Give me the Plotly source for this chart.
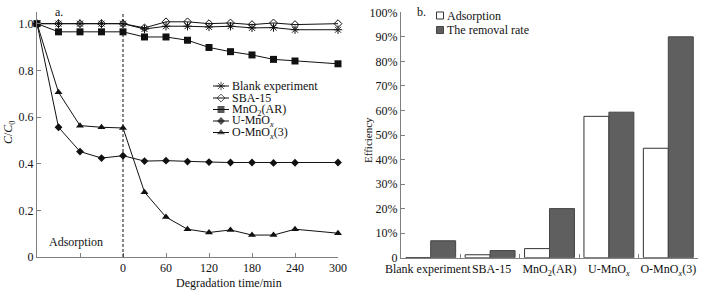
import plotly.graph_objects as go

# ---------------- data ----------------
time_min = [-120, -90, -60, -30, 0, 30, 60, 90, 120, 150, 180, 210, 240, 300]
blank_exp = [1.0, 1.0, 1.0, 1.0, 1.0, 0.977, 0.989, 0.989, 0.986, 0.989, 0.982, 0.983, 0.974, 0.974]
sba15 = [1.0, 1.0, 1.0, 1.0, 1.0, 0.982, 1.008, 1.008, 1.0, 1.003, 0.996, 1.003, 0.996, 1.0]
mno2_ar = [1.0, 0.965, 0.965, 0.965, 0.965, 0.943, 0.943, 0.929, 0.898, 0.880, 0.866, 0.847, 0.840, 0.828]
u_mnox = [1.0, 0.556, 0.452, 0.424, 0.434, 0.411, 0.413, 0.409, 0.407, 0.405, 0.405, 0.403, 0.404, 0.405]
o_mnox3 = [1.0, 0.706, 0.563, 0.556, 0.553, 0.278, 0.171, 0.119, 0.105, 0.116, 0.094, 0.094, 0.119, 0.102]
adsorption_end = 0

series_names = ["Blank experiment", "SBA-15", "MnO<sub>2</sub>(AR)",
                "U-MnO<sub><i>x</i></sub>", "O-MnO<sub><i>x</i></sub>(3)"]

left_x_ticks = [-120, -60, 0, 60, 120, 180, 240, 300]
left_x_labels = ["", "", "0", "60", "120", "180", "240", "300"]
left_y_ticks = [0, 0.2, 0.4, 0.6, 0.8, 1.0, 1.05]
left_y_labels = ["0", "0.2", "0.4", "0.6", "0.8", "1.0", ""]

categories = ["Blank experiment", "SBA-15", "MnO<sub>2</sub>(AR)",
              "U-MnO<sub><i>x</i></sub>", "O-MnO<sub><i>x</i></sub>(3)"]
category_labels = ["Blank experiment\u00a0\u00a0", "\u00a0SBA-15", "MnO<sub>2</sub>(AR)",
                   "U-MnO<sub><i>x</i></sub>", "O-MnO<sub><i>x</i></sub>(3)"]
adsorption_pct = [0, 1.2, 3.7, 57.6, 44.6]
removal_pct = [6.9, 2.9, 20.0, 59.3, 90.0]
right_y_ticks = [0, 10, 20, 30, 40, 50, 60, 70, 80, 90, 100]
right_y_labels = ["0", "10%", "20%", "30%", "40%", "50%", "60%", "70%", "80%", "90%", "100%"]

# ---------------- styling ----------------
W, H = 711, 294
FONT = "Liberation Serif, Times New Roman, serif"
AX = "#808080"
INK = "#111111"
GRAY = "#5f5f5f"


def px(x):
    return x / W


def py(y):
    return 1 - y / H


styles = [
    dict(symbol="asterisk-open", size=7, color=INK, line=dict(width=1, color=INK)),
    dict(symbol="diamond-open", size=6, color=INK, line=dict(width=1, color=INK)),
    dict(symbol="square", size=7, color=INK, line=dict(width=0)),
    dict(symbol="diamond", size=6, color=INK, line=dict(width=0)),
    dict(symbol="triangle-up", size=7, color=INK, line=dict(width=0)),
]
all_series = [blank_exp, sba15, mno2_ar, u_mnox, o_mnox3]

fig = go.Figure()

for name, vals, st in zip(series_names, all_series, styles):
    fig.add_trace(go.Scatter(
        x=time_min, y=vals, name=name, mode="lines+markers",
        line=dict(color=INK, width=1), marker=st,
        xaxis="x", yaxis="y", cliponaxis=False, showlegend=False))

fig.add_trace(go.Bar(
    x=categories, y=adsorption_pct, name="Adsorption",
    marker=dict(color="white", line=dict(color="#333333", width=1)),
    xaxis="x2", yaxis="y2", showlegend=False))
fig.add_trace(go.Bar(
    x=categories, y=removal_pct, name="The removal rate",
    marker=dict(color=GRAY, line=dict(color="#444444", width=1)),
    xaxis="x2", yaxis="y2", showlegend=False))

# manual legend keys on a pixel-space overlay axis
leg_rows = [86, 98, 109.5, 121, 132.5]
for st, row in zip(styles, leg_rows):
    mk = dict(st)
    mk["size"] = [0, st["size"], 0]
    fig.add_trace(go.Scatter(
        x=[213, 221, 229], y=[row, row, row], mode="lines+markers",
        line=dict(color=INK, width=1), marker=mk,
        xaxis="x3", yaxis="y3", showlegend=False, hoverinfo="skip", cliponaxis=False))
fig.add_trace(go.Scatter(
    x=[440, 440], y=[15.5, 30],
    mode="markers",
    marker=dict(symbol="square", size=7, color=["white", GRAY],
                line=dict(color=["#333333", "#444444"], width=1)),
    xaxis="x3", yaxis="y3", showlegend=False, hoverinfo="skip", cliponaxis=False))

annotations = []
for name, row in zip(series_names, leg_rows):
    annotations.append(dict(x=px(230), y=py(row), xref="paper", yref="paper",
                            text=name, showarrow=False, xanchor="left", yanchor="middle",
                            font=dict(family=FONT, size=12, color=INK)))
annotations += [
    dict(x=px(445), y=py(15.5), text="Adsorption", xanchor="left"),
    dict(x=px(445), y=py(30), text="The removal rate", xanchor="left"),
    dict(x=px(53), y=py(12), text="a.", xanchor="left"),
    dict(x=px(415), y=py(12), text="b.", xanchor="left"),
    dict(x=px(47), y=py(242), text="Adsorption", xanchor="left"),
    dict(x=px(229), y=py(283), text="Degradation time/min", xanchor="center"),
    dict(x=px(9), y=py(132), text="<i>C</i>/<i>C</i><sub>0</sub>", xanchor="center", textangle=-90),
    dict(x=px(368), y=py(140), text="Efficiency", xanchor="center", textangle=-90, size=11),
]
for a in annotations[5:]:
    a.setdefault("xref", "paper")
    a.setdefault("yref", "paper")
    a["showarrow"] = False
    a.setdefault("yanchor", "middle")
    sz = a.pop("size", 12)
    a["font"] = dict(family=FONT, size=sz, color=INK)

axis_common = dict(showline=True, linecolor=AX, linewidth=1, ticks="inside", ticklen=4,
                   tickcolor=AX, tickwidth=1, showgrid=False, zeroline=False, automargin=False,
                   tickfont=dict(family=FONT, size=12, color=INK))

fig.update_layout(
    width=W, height=H, autosize=False,
    margin=dict(l=0, r=0, t=0, b=0, pad=0, autoexpand=False),
    paper_bgcolor="white", plot_bgcolor="rgba(0,0,0,0)",
    font=dict(family=FONT, size=12, color=INK),
    showlegend=False,
    barmode="group", bargap=0.16, bargroupgap=0,
    xaxis=dict(domain=[px(37), px(338)], range=[-120, 300], anchor="y",
               tickmode="array", tickvals=left_x_ticks, ticktext=left_x_labels, **axis_common),
    yaxis=dict(domain=[py(257), py(12)], range=[0, 1.05], anchor="x",
               tickmode="array", tickvals=left_y_ticks, ticktext=left_y_labels, **axis_common),
    xaxis2=dict(domain=[px(401), px(698)], anchor="y2", type="category", tickangle=0,
                tickmode="array", tickvals=categories, ticktext=category_labels,
                tickson="boundaries", **axis_common),
    yaxis2=dict(domain=[py(257.7), py(12.3)], range=[0, 100], anchor="x2",
                tickmode="array", tickvals=right_y_ticks, ticktext=right_y_labels, **axis_common),
    xaxis3=dict(domain=[0, 1], range=[0, W], visible=False, anchor="y3", fixedrange=True),
    yaxis3=dict(domain=[0, 1], range=[H, 0], visible=False, anchor="x3", fixedrange=True),
    annotations=annotations,
    shapes=[dict(type="line", xref="x", yref="y", x0=adsorption_end, x1=adsorption_end,
                 y0=0, y1=1.05, line=dict(color=INK, width=1, dash="3px,2px"))],
)

fig.write_html("out.html",
               config={"displayModeBar": False, "staticPlot": True},
               post_script="document.body.style.margin='0';document.body.style.padding='0';"
                           "document.body.style.overflow='hidden';")
